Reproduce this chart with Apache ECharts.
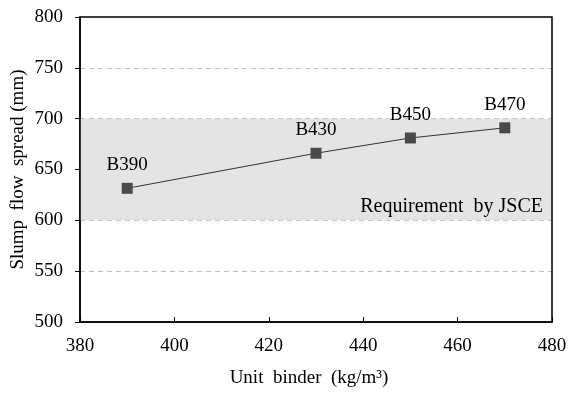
<!DOCTYPE html>
<html><head><meta charset="utf-8">
<script src="https://cdn.jsdelivr.net/npm/echarts@6/dist/echarts.min.js"></script>
<style>html,body{margin:0;padding:0;background:#fff}#c{width:570px;height:393px}</style>
</head><body><div id="c"></div>
<script>
const binder = [390, 430, 450, 470];
const slump = [631.5, 666, 681, 691];
const mixLabels = ['B390', 'B430', 'B450', 'B470'];
const xTicks = [380, 400, 420, 440, 460, 480];
const yTicks = [500, 550, 600, 650, 700, 750, 800];
const jsceRange = [600, 700];
const jsceText = 'Requirement  by JSCE';

const font = 'Liberation Serif';
const chart = echarts.init(document.getElementById('c'), null, {renderer: 'canvas'});
chart.setOption({
  animation: false,
  grid: {left: 80, right: 18, top: 17, bottom: 71, containLabel: false, outerBoundsMode: 'none',
    show: true, borderColor: '#000', borderWidth: 1.5, backgroundColor: 'transparent', z: 5},
  xAxis: {
    type: 'value', min: xTicks[0], max: xTicks[xTicks.length - 1], interval: 20,
    name: 'Unit  binder  (kg/m³)', nameLocation: 'middle', nameGap: 47,
    nameTextStyle: {fontFamily: font, fontSize: 19, color: '#000', padding: [0, 14, 0, 0]},
    axisLine: {lineStyle: {color: '#000', width: 1.5}},
    axisTick: {inside: true, length: 5, lineStyle: {color: '#000'}},
    axisLabel: {fontFamily: font, fontSize: 19, color: '#000', margin: 15},
    splitLine: {show: false}
  },
  yAxis: {
    type: 'value', min: yTicks[0], max: yTicks[yTicks.length - 1], interval: 50,
    name: 'Slump  flow  spread (mm)', nameLocation: 'middle', nameGap: 52, nameMoveOverlap: false,
    nameTextStyle: {fontFamily: font, fontSize: 19, color: '#000'},
    axisLine: {lineStyle: {color: '#000', width: 1.5}},
    axisTick: {inside: false, length: 5, lineStyle: {color: '#000'}},
    axisLabel: {fontFamily: font, fontSize: 19, color: '#000', margin: 17},
    splitLine: {show: true, showMinLine: false, showMaxLine: false, lineStyle: {color: '#bdbdbd', type: [5, 4], width: 1}}
  },
  series: [{
    type: 'line',
    data: binder.map((b, i) => [b, slump[i]]),
    symbol: 'rect', symbolSize: 11,
    itemStyle: {color: '#4a4a4a'},
    lineStyle: {color: '#333', width: 1},
    label: {show: true, position: 'top', distance: 8, fontFamily: font, fontSize: 19, color: '#000',
      formatter: p => mixLabels[p.dataIndex]},
    markArea: {
      silent: true,
      itemStyle: {color: '#e4e4e4'},
      label: {show: true, position: 'insideBottomRight', distance: 4, padding: [0, 5, 0, 0],
        fontFamily: font, fontSize: 20, color: '#000', formatter: () => jsceText},
      data: [[{yAxis: jsceRange[0], name: jsceText}, {yAxis: jsceRange[1]}]]
    },
    z: 3
  }]
});
</script></body></html>
